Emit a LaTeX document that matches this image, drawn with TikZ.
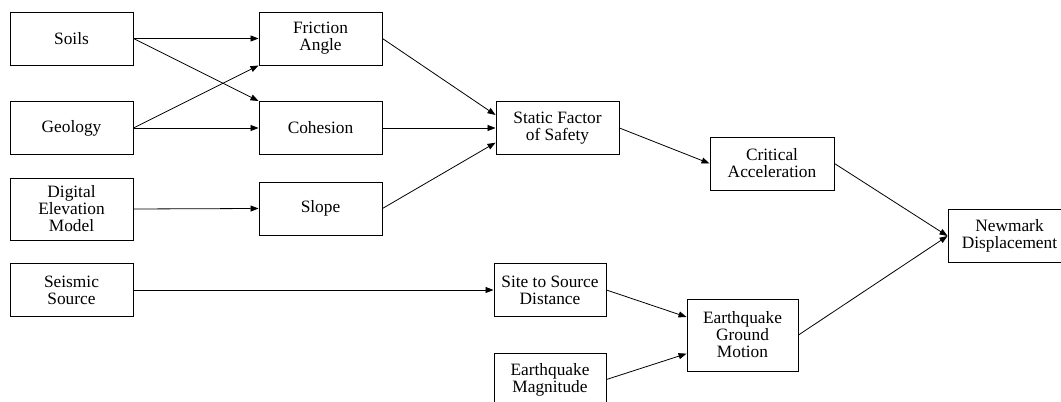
\documentclass[tikz,border=0pt]{standalone}
\usepackage{fontspec}
\setmainfont{Liberation Serif}
\usetikzlibrary{arrows.meta}
\begin{document}
\begin{tikzpicture}[x=0.75pt, y=-0.75pt,
  box/.style={draw, line width=0.7pt, minimum width=92.25pt, minimum height=39.75pt, inner sep=0pt, align=center, font=\fontsize{13}{12.75}\selectfont},
  link/.style={-{Triangle[length=6pt,width=4.5pt]}, line width=0.6pt}]
\useasboundingbox (0,0) rectangle (1061,402);
\clip (0,0) rectangle (1061,402);
\node[box] (soils) at (71.5, 38.5) {Soils};
\node[box] (geology) at (71.5, 128) {Geology};
\node[box, minimum height=46.5pt] (dem) at (71.5, 209) {Digital\\Elevation\\Model};
\node[box] (seismic) at (71.5, 290) {Seismic\\Source};
\node[box] (friction) at (320.5, 38.5) {Friction\\Angle};
\node[box] (cohesion) at (320.5, 128) {Cohesion};
\node[box] (slope) at (320.5, 208.5) {Slope};
\node[box] (sfs) at (557.5, 128) {Static Factor\\of Safety};
\node[box, minimum width=84pt] (site) at (550, 290) {Site to Source\\Distance};
\node[box, minimum width=84pt] (magnitude) at (550, 379.5) {Earthquake\\Magnitude};
\node[box, minimum width=93pt] (critical) at (772, 163.5) {Critical\\Acceleration};
\node[box, minimum width=83.25pt, minimum height=54pt] (egm) at (742.5, 335) {Earthquake\\Ground\\Motion};
\node[box] (newmark) at (1009.5, 236) {Newmark\\Displacement};
\path [link] (soils.east) edge (friction.west);
\path [link] (soils.east) edge (cohesion.north west);
\path [link] (geology.east) edge (friction.south west);
\path [link] (geology.east) edge (cohesion.west);
\path [link] (dem.east) edge (slope.west);
\path [link] (friction.east) edge ([yshift=9.75pt]sfs.west);
\path [link] (cohesion.east) edge (sfs.west);
\path [link] (slope.east) edge ([yshift=-11pt]sfs.west);
\path [link] (sfs.east) edge (critical.west);
\path [link] (critical.east) edge (newmark.west);
\path [link] (seismic.east) edge (site.west);
\path [link] (site.east) edge ([yshift=13.5pt]egm.west);
\path [link] (magnitude.east) edge ([yshift=-14pt]egm.west);
\path [link] (egm.east) edge (newmark.west);
\end{tikzpicture}
\end{document}
